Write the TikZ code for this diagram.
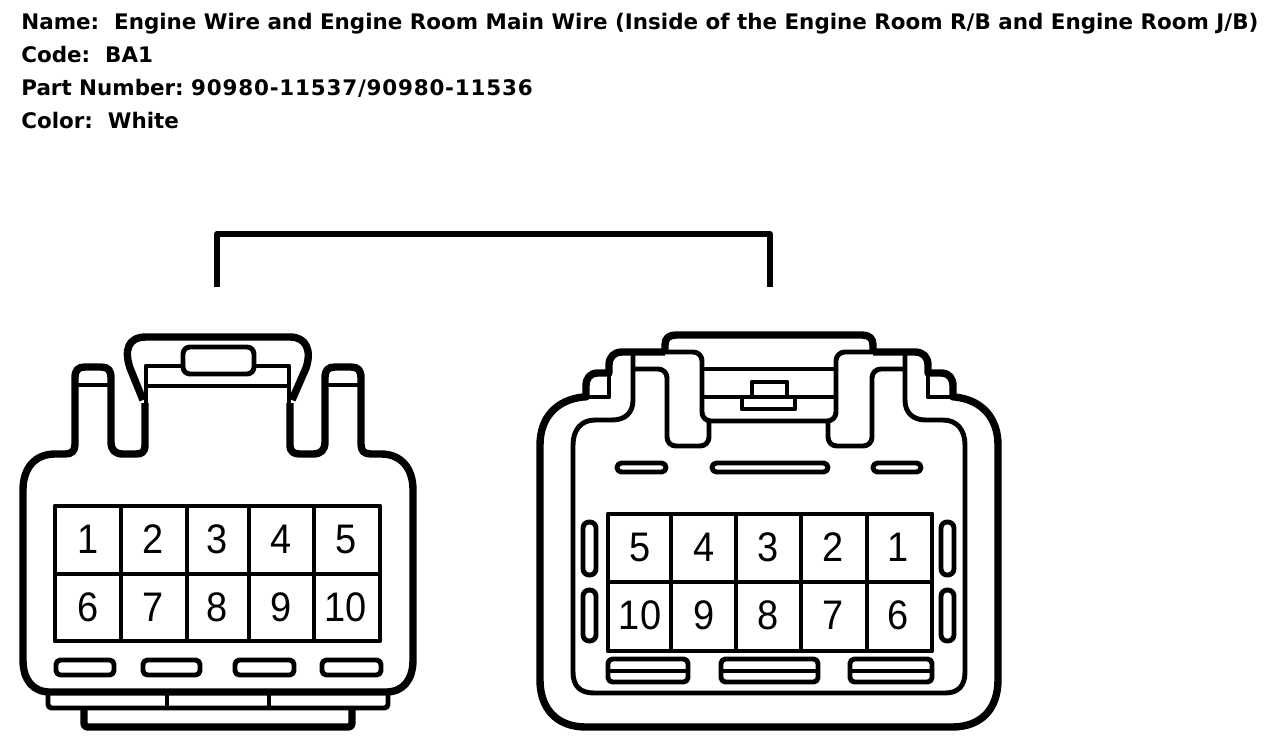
\documentclass[tikz,border=0pt]{standalone}
\usepackage{fontspec}
\setmainfont{Liberation Sans}
\newfontfamily\headfont{DejaVu Sans}
\newfontfamily\pinfont[FakeStretch=0.92]{Liberation Sans}
\tikzset{
	thickline/.style={line width=4.2pt,line join=round},
	midline/.style={line width=2.8pt,line join=round},
	thinline/.style={line width=2.4pt,line join=round},
	slot/.style={midline,rounded corners=2.5pt},
	pin/.style={font=\pinfont\fontsize{23.5}{24}\selectfont,inner sep=0pt},
	headline/.style={anchor=base west,inner sep=0pt,font=\headfont\bfseries\fontsize{12.2}{14}\selectfont},
}
\begin{document}
\begin{tikzpicture}[x=0.02cm,y=-0.02cm]
		\useasboundingbox (0,0) rectangle (1264,748);
		
		% header
		\node[headline] (name) at (21,29) {Name:\ \ Engine Wire and Engine Room Main Wire (Inside of the Engine Room R/B and Engine Room J/B)};
		\node[headline] (code) at (21,62) {Code:\ \ BA1};
		\node[headline] (part) at (21,95) {Part Number:\ {\addfontfeature{LetterSpace=3.7}90980-11537/90980-11536}};
		\node[headline] (color) at (21,128) {Color:\ \ White};
		
		% wire between the connectors
		\coordinate (wireleft) at (217,287);
		\coordinate (wireright) at (770,287);
		\draw[thickline,line width=3.4pt] (wireleft) -- (217,234) -- (770,234) -- (wireright);
		
		% left connector, body
		\draw[thickline] (145,403) -- (145,445) .. controls (145,452) and (142,454) .. (136,454) -- (123,454)
			.. controls (115,454) and (111,450) .. (111,442) -- (111,378) .. controls (111,370) and (108,367) .. (101,367)
			-- (85,367) .. controls (78,367) and (75,370) .. (75,378) -- (75,444) .. controls (75,451) and (72,454) .. (65,454)
			-- (55,454) .. controls (35,454) and (23,468) .. (23,490) -- (23,660) .. controls (23,680) and (33,692) .. (50,692)
			-- (386,692) .. controls (403,692) and (413,680) .. (413,660) -- (413,490) .. controls (413,468) and (401,454) .. (381,454)
			-- (371,454) .. controls (364,454) and (361,451) .. (361,444) -- (361,378) .. controls (361,370) and (358,367) .. (351,367)
			-- (335,367) .. controls (328,367) and (325,370) .. (325,378) -- (325,442) .. controls (325,450) and (321,454) .. (313,454)
			-- (300,454) .. controls (294,454) and (290,452) .. (290,445) -- (290,403);
		\draw[midline] (75,385) -- (111,385) (325,385) -- (361,385);
		% left connector, latch
		\draw[thickline] (143,400) -- (130,368) .. controls (124,350) and (128,337) .. (146,337) -- (290,337)
			.. controls (306,337) and (312,350) .. (306,368) -- (292,400);
		\draw[midline] (146,403) -- (146,366) -- (183,366) (289,403) -- (289,366) -- (255,366);
		\draw[midline] (146,386) -- (289,386);
		\draw[midline,rounded corners=4pt] (183,374) -- (183,347) -- (254,347) -- (254,374) -- cycle;
		% left connector, bottom tabs
		\draw[midline,rounded corners=2pt] (48,692) -- (48,708) -- (388,708) -- (388,692);
		\draw[thickline,rounded corners=2pt] (84,708) -- (84,727) -- (352,727) -- (352,708);
		\draw[midline] (167,692) -- (167,708) (269,692) -- (269,708);
		% left connector, slots
		\foreach \xa/\xb in {56/114, 143/200, 235/294, 322/381}{
			\draw[slot] (\xa,660) rectangle (\xb,675);
		}
		% left connector, pins
		\draw[midline] (55,506) rectangle (380,641);
		\draw[midline] (55,574) -- (380,574);
		\foreach \x in {121,187,249,314}{
			\draw[thinline] (\x,506) -- (\x,641);
		}
		\foreach \x/\t/\b in {88/1/6, 153/2/7, 217/3/8, 281/4/9, 346/5/10}{
			\node[pin] (lt\t) at (\x,539) {\t};
			\node[pin] (lb\b) at (\x,607) {\b};
		}
		
		% right connector, body
		\draw[thickline] (665,352) -- (622,352) .. controls (614,352) and (609,357) .. (609,365) -- (609,373) -- (598,373)
			.. controls (590,373) and (586,378) .. (586,386) -- (586,397) -- (583,397)
			.. controls (556,400) and (540,418) .. (540,445) -- (540,680) .. controls (540,708) and (556,727) .. (586,727)
			-- (952,727) .. controls (982,727) and (998,708) .. (998,680) -- (998,445) .. controls (998,418) and (982,400) .. (955,397)
			-- (953,397) -- (953,386) .. controls (953,378) and (949,373) .. (941,373) -- (928,373) -- (928,365)
			.. controls (928,357) and (923,352) .. (915,352) -- (873,352);
		\draw[midline] (586,397) -- (609,397) -- (609,373) (953,397) -- (928,397) -- (928,373);
		\draw[midline] (633,354) -- (633,400) .. controls (633,413) and (625,420) .. (612,420) -- (595,420)
			.. controls (581,420) and (573,430) .. (573,445) -- (573,672) .. controls (573,686) and (580,693) .. (594,693)
			-- (945,693) .. controls (958,693) and (965,686) .. (965,672) -- (965,445) .. controls (965,430) and (957,420) .. (943,420)
			-- (926,420) .. controls (913,420) and (905,413) .. (905,400) -- (905,354);
		% right connector, latch
		\draw[thickline] (665,352) -- (665,345) .. controls (665,338) and (669,335) .. (676,335) -- (862,335)
			.. controls (869,335) and (873,338) .. (873,345) -- (873,352);
		\draw[midline,rounded corners=5pt] (665,352) -- (702,352) -- (702,421) -- (836,421) -- (836,352) -- (873,352);
		\draw[midline,rounded corners=5pt] (635,369) -- (667,369) -- (667,446) -- (709,446) -- (709,421);
		\draw[midline,rounded corners=5pt] (903,369) -- (872,369) -- (872,446) -- (828,446) -- (828,421);
		\draw[midline] (702,369) -- (836,369) (702,397) -- (836,397);
		\draw[midline] (752,397) -- (752,382) -- (787,382) -- (787,397);
		\draw[midline] (742,397) rectangle (795,409);
		% right connector, slots
		\foreach \xa/\xb in {617/666, 712/828, 873/921}{
			\draw[slot] (\xa,463) rectangle (\xb,472);
		}
		\foreach \xa/\ya/\yb in {583/522/575, 941/522/575, 583/590/641, 941/590/641}{
			\draw[slot,rounded corners=3.5pt] (\xa,\ya) rectangle ({\xa+13},\yb);
		}
		\foreach \xa/\xb in {608/688, 721/818, 850/932}{
			\draw[slot] (\xa,659) rectangle (\xb,682);
			\draw[midline] (\xa,671) -- (\xb,671);
		}
		% right connector, pins
		\draw[midline] (608,514) rectangle (932,651);
		\draw[midline] (608,582) -- (932,582);
		\foreach \x in {671,736,801,867}{
			\draw[thinline] (\x,514) -- (\x,651);
		}
		\foreach \x/\t/\b in {640/5/10, 704/4/9, 768/3/8, 833/2/7, 898/1/6}{
			\node[pin] (rt\t) at (\x,547) {\t};
			\node[pin] (rb\b) at (\x,615) {\b};
		}
\end{tikzpicture}
\end{document}
